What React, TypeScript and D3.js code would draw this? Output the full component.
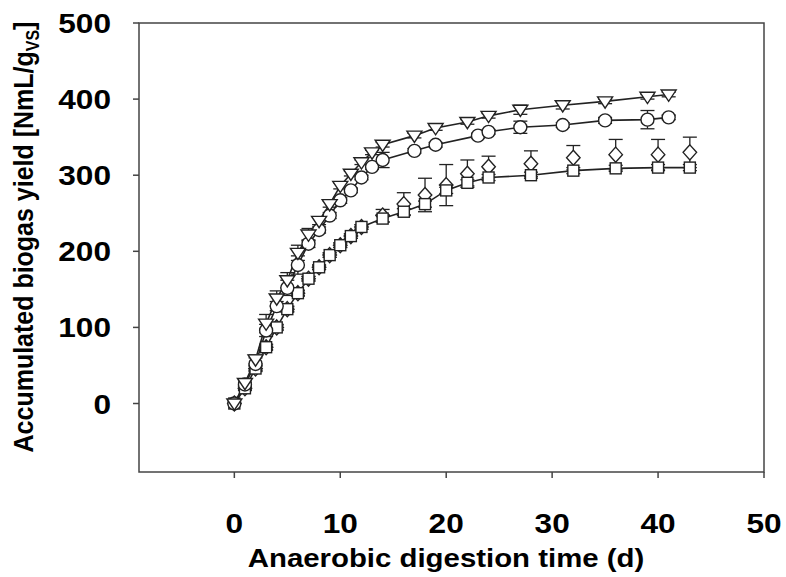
import React from "react";
import * as d3 from "d3";

// ---- data ----
const triDays = [0, 1, 2, 3, 4, 5, 6, 7, 8, 9, 10, 11, 12, 13, 14, 17, 19, 22, 24, 27, 31, 35, 39, 41];
const triVals = [0, 27, 58, 105, 138, 162, 198, 222, 240, 262, 286, 302, 317, 330, 340, 352, 362, 370, 378, 386, 392, 397, 403, 406];
const triErr = [0, 3, 6, 12, 10, 10, 10, 8, 5, 4, 4, 3, 3, 3, 3, 3, 3, 3, 3, 6, 5, 3, 3, 3];

const cirDays = [0, 1, 2, 3, 4, 5, 6, 7, 8, 9, 10, 11, 12, 13, 14, 17, 19, 23, 24, 27, 31, 35, 39, 41];
const cirVals = [0, 25, 52, 96, 128, 152, 182, 210, 228, 247, 267, 280, 297, 311, 320, 332, 340, 352, 357, 363, 366, 372, 373, 376];
const cirErr = [0, 3, 8, 8, 6, 10, 12, 5, 4, 4, 4, 3, 3, 3, 10, 3, 3, 3, 3, 8, 3, 4, 12, 3];

const sqDays = [0, 1, 2, 3, 4, 5, 6, 7, 8, 9, 10, 11, 12, 14, 16, 18, 20, 22, 24, 28, 32, 36, 40, 43];
const sqVals = [0, 20, 46, 74, 100, 124, 145, 164, 179, 195, 208, 220, 232, 243, 252, 262, 280, 290, 297, 300, 306, 309, 310, 310];
const sqErr = [0, 3, 4, 4, 4, 4, 4, 3, 3, 3, 3, 3, 3, 5, 4, 4, 4, 4, 4, 4, 4, 4, 4, 4];

const diaDays = [0, 1, 2, 3, 4, 5, 6, 7, 8, 9, 10, 11, 12, 14, 16, 18, 20, 22, 24, 28, 32, 36, 40, 43];
const diaVals = [0, 20, 46, 74, 100, 124, 145, 164, 179, 195, 208, 220, 232, 247, 262, 274, 287, 302, 311, 315, 323, 327, 327, 330];
const diaErr = [0, 2, 3, 3, 3, 3, 3, 3, 3, 3, 3, 3, 3, 8, 15, 22, 27, 18, 14, 17, 16, 20, 20, 20];

const xTicks = [0, 10, 20, 30, 40, 50];
const yTicks = [0, 100, 200, 300, 400, 500];

const xTitle = "Anaerobic digestion time (d)";
const yTitleMain = "Accumulated biogas yield [NmL/g";
const yTitleSub = "VS";
const yTitleEnd = "]";

// ---- layout ----
const W = 786;
const H = 577;
const L = 139, R = 764, T = 23, B = 472;
const SX = 1.13; // horizontal stretch of the text

type Pt = { d: number; v: number; e: number };
const zip = (ds: number[], vs: number[], es: number[]): Pt[] =>
  ds.map((d, i) => ({ d, v: vs[i], e: es[i] }));

export default function App() {
  const x = d3.scaleLinear().domain([-9, 50]).range([L, R]);
  const y = d3.scaleLinear().domain([-90, 500]).range([B, T]);

  const line = d3
    .line<Pt>()
    .x((p) => x(p.d))
    .y((p) => y(p.v));

  const tri = zip(triDays, triVals, triErr);
  const cir = zip(cirDays, cirVals, cirErr);
  const sq = zip(sqDays, sqVals, sqErr);
  const dia = zip(diaDays, diaVals, diaErr);

  const stroke = "#222";
  const font = "Liberation Sans, Arial, Helvetica, sans-serif";

  const errBars = (pts: Pt[], key: string) =>
    pts
      .filter((p) => p.e > 0)
      .map((p, i) => {
        const cx = x(p.d);
        const y1 = y(p.v + p.e);
        const y2 = y(p.v - p.e);
        return (
          <g key={key + i} stroke={stroke} strokeWidth={1.3}>
            <line x1={cx} x2={cx} y1={y1} y2={y2} />
            <line x1={cx - 7} x2={cx + 7} y1={y1} y2={y1} />
            <line x1={cx - 7} x2={cx + 7} y1={y2} y2={y2} />
          </g>
        );
      });

  const marker = (shape: string, p: Pt, k: string) => {
    const cx = x(p.d);
    const cy = y(p.v);
    const common = { fill: "white", stroke, strokeWidth: 1.4 };
    if (shape === "tri") {
      const s = 7.5;
      return (
        <path
          key={k}
          d={`M${cx - s},${cy - s * 0.6} L${cx + s},${cy - s * 0.6} L${cx},${cy + s * 0.9} Z`}
          {...common}
        />
      );
    }
    if (shape === "cir") return <circle key={k} cx={cx} cy={cy} r={6.5} {...common} />;
    if (shape === "sq")
      return <rect key={k} x={cx - 5.5} y={cy - 5.5} width={11} height={11} {...common} />;
    const s = 7.5;
    return (
      <path
        key={k}
        d={`M${cx},${cy - s} L${cx + s * 0.9},${cy} L${cx},${cy + s} L${cx - s * 0.9},${cy} Z`}
        {...common}
      />
    );
  };

  return (
    <div style={{ position: "absolute", left: 0, top: 0 }}>
      <svg width={W} height={H} style={{ display: "block", background: "white" }}>
        {/* frame */}
        <rect x={L} y={T} width={R - L} height={B - T} fill="none" stroke="#444" strokeWidth={1.5} />

        {/* y ticks */}
        {yTicks.map((t) => (
          <g key={"y" + t}>
            <line x1={L - 6} x2={L} y1={y(t)} y2={y(t)} stroke="#444" strokeWidth={1.5} />
            <text
              transform={`translate(111, ${y(t)}) scale(${SX}, 1)`}
              dy="0.36em"
              textAnchor="end"
              fontFamily={font}
              fontWeight="bold"
              fontSize={28}
            >
              {t}
            </text>
          </g>
        ))}

        {/* x ticks */}
        {xTicks.map((t) => (
          <g key={"x" + t}>
            <line x1={x(t)} x2={x(t)} y1={B} y2={B + 6} stroke="#444" strokeWidth={1.5} />
            <text
              transform={`translate(${x(t)}, 533) scale(${SX}, 1)`}
              textAnchor="middle"
              fontFamily={font}
              fontWeight="bold"
              fontSize={28}
            >
              {t}
            </text>
          </g>
        ))}

        {/* axis titles */}
        <text
          transform={`translate(446, 567) scale(${SX}, 1)`}
          textAnchor="middle"
          fontFamily={font}
          fontWeight="bold"
          fontSize={26}
        >
          {xTitle}
        </text>
        <text
          transform={`translate(33, 237) rotate(-90) scale(1, ${SX})`}
          textAnchor="middle"
          fontFamily={font}
          fontWeight="bold"
          fontSize={25}
        >
          {yTitleMain}
          <tspan fontSize={16} dy={5}>
            {yTitleSub}
          </tspan>
          <tspan dy={-5}>{yTitleEnd}</tspan>
        </text>

        {/* lines */}
        <path d={line(sq) || ""} fill="none" stroke={stroke} strokeWidth={1.6} />
        <path d={line(cir) || ""} fill="none" stroke={stroke} strokeWidth={1.6} />
        <path d={line(tri) || ""} fill="none" stroke={stroke} strokeWidth={1.6} />

        {/* error bars */}
        {errBars(sq, "es")}
        {errBars(dia, "ed")}
        {errBars(cir, "ec")}
        {errBars(tri, "et")}

        {/* markers */}
        {dia.map((p, i) => marker("dia", p, "d" + i))}
        {sq.map((p, i) => marker("sq", p, "s" + i))}
        {cir.map((p, i) => marker("cir", p, "c" + i))}
        {tri.map((p, i) => marker("tri", p, "t" + i))}
      </svg>
    </div>
  );
}
